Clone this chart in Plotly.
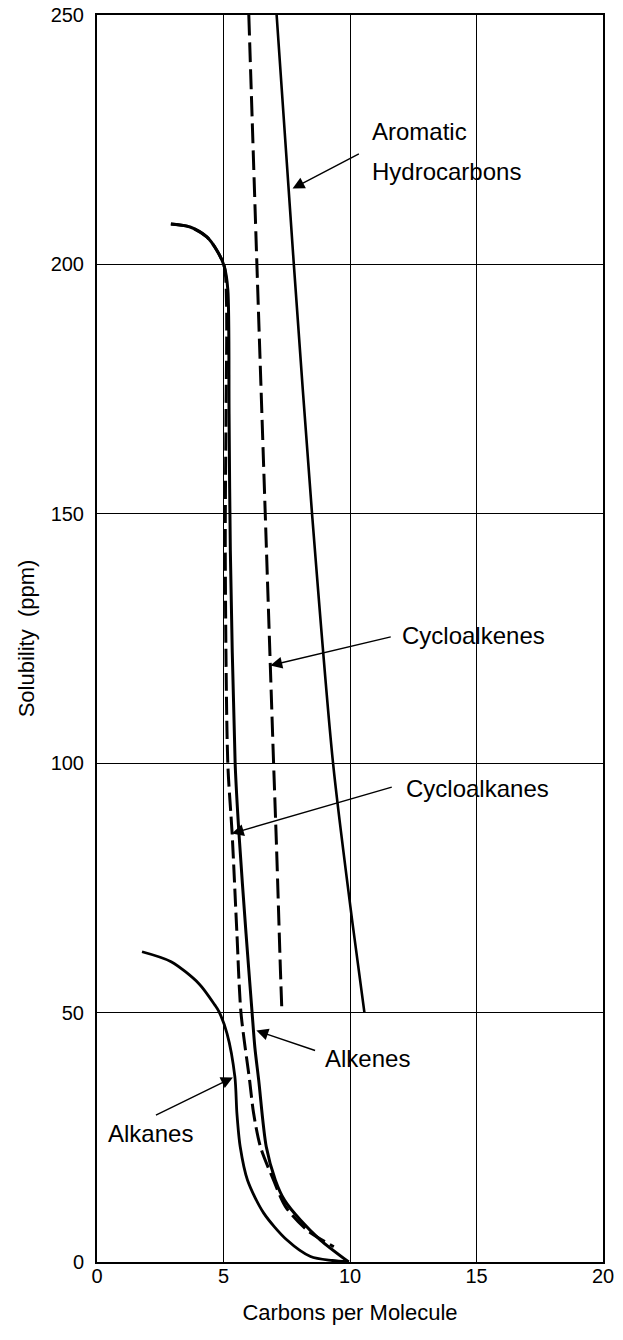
import plotly.graph_objects as go

# ---- data ----
aromatic_x = [7.10, 7.78, 8.50, 9.33, 10.10, 10.57]
aromatic_y = [250, 200, 150, 100, 67.9, 50]

cycloalkenes_x = [6.00, 6.32, 6.65, 6.85, 6.98, 7.10, 7.25, 7.31]
cycloalkenes_y = [250, 200, 150, 119.6, 100, 82.6, 58.5, 50]

cycloalkanes_x = [2.92, 3.68, 4.34, 4.74, 5.03, 5.12, 5.10, 5.07, 5.17, 5.34, 5.53, 5.69,
                  6.03, 6.19, 6.46, 6.98, 7.45, 8.30, 9.36]
cycloalkanes_y = [208.1, 207.5, 205.5, 202.8, 199.6, 192, 170, 142.7, 100, 86, 65.9, 50,
                  36.5, 29.8, 23.1, 16.4, 11.1, 6.4, 3.07]

alkenes_x = [2.92, 3.68, 4.34, 4.74, 5.03, 5.17, 5.22, 5.27, 5.46, 5.61, 5.89, 6.13,
             6.24, 6.39, 6.69, 7.05, 7.41, 8.04, 8.83, 9.95]
alkenes_y = [208.1, 207.5, 205.5, 202.8, 199.6, 195, 170, 142.7, 100, 86, 65.9, 50,
             43, 36.5, 23.1, 16.4, 12.4, 8.4, 4.4, 0]

alkanes_x = [1.78, 2.93, 4.03, 4.66, 4.82, 5.14, 5.45, 5.53, 5.66, 5.95, 6.59, 7.51, 8.44, 9.30, 9.95]
alkanes_y = [62.2, 60.2, 55.8, 51.5, 50.2, 45.8, 37.1, 29.8, 23.1, 16.4, 9.8, 4.4, 1.1, 0.3, 0]

x_ticks = [0, 5, 10, 15, 20]
y_ticks = [0, 50, 100, 150, 200, 250]

# labels: (text, x, y, anchor) and arrows: (tip_x, tip_y, tail_x, tail_y)
labels = [
    ("Aromatic", 10.78, 226.6, "left"),
    ("Hydrocarbons", 10.80, 218.7, "left"),
    ("Cycloalkenes", 11.99, 125.6, "left"),
    ("Cycloalkanes", 12.14, 95.0, "left"),
    ("Alkenes", 8.95, 40.7, "left"),
    ("Alkanes", 2.11, 25.8, "center"),
]
arrows = [
    (7.73, 215.2, 10.41, 222.3),
    (6.85, 119.6, 11.67, 125.4),
    (5.33, 85.9, 11.71, 95.3),
    (6.30, 46.4, 8.68, 42.3),
    (5.37, 37.0, 2.27, 29.3),
]

FONT = "Liberation Sans, Arial, sans-serif"

fig = go.Figure()

def add_line(x, y, dash, width):
    fig.add_trace(go.Scatter(
        x=x, y=y, mode="lines",
        line=dict(color="black", width=width, dash=dash, shape="spline", smoothing=0.8),
        showlegend=False, hoverinfo="skip"))

add_line(aromatic_x, aromatic_y, "solid", 2.6)
add_line(cycloalkenes_x, cycloalkenes_y, "20px,7px", 3)
add_line(alkenes_x, alkenes_y, "solid", 3)
add_line(cycloalkanes_x, cycloalkanes_y, "18px,6px", 3)
add_line(alkanes_x, alkanes_y, "solid", 2.8)

annotations = []
for text, x, y, anchor in labels:
    annotations.append(dict(
        x=x, y=y, xref="x", yref="y", text=text, showarrow=False,
        xanchor=anchor, yanchor="middle",
        font=dict(family=FONT, size=24, color="black")))
for tx, ty, sx, sy in arrows:
    annotations.append(dict(
        x=tx, y=ty, ax=sx, ay=sy, xref="x", yref="y", axref="x", ayref="y",
        text="", showarrow=True, arrowhead=2, arrowsize=1.7, arrowwidth=1.4,
        arrowcolor="black", standoff=0, startstandoff=0))

fig.update_layout(
    width=623, height=1340,
    margin=dict(l=97, r=20, t=15, b=78, autoexpand=False),
    paper_bgcolor="white", plot_bgcolor="white",
    font=dict(family=FONT, color="black"),
    annotations=annotations,
)

fig.update_xaxes(
    range=[0, 20], tickvals=x_ticks, ticktext=[str(v) for v in x_ticks],
    showgrid=True, gridcolor="black", gridwidth=1,
    showline=True, linecolor="black", linewidth=2, mirror=True,
    zeroline=False, ticks="", ticklabelstandoff=-5,
    tickfont=dict(family=FONT, size=20, color="black"),
    title=dict(text="Carbons per Molecule", font=dict(family=FONT, size=22, color="black"),
               standoff=19),
    fixedrange=True,
)
fig.update_yaxes(
    range=[0, 250], tickvals=y_ticks, ticktext=[str(v) for v in y_ticks],
    showgrid=True, gridcolor="black", gridwidth=1,
    showline=True, linecolor="black", linewidth=2, mirror=True,
    zeroline=False, ticks="", ticklabelstandoff=7,
    tickfont=dict(family=FONT, size=20, color="black"),
    title=dict(text="Solubility  (ppm)", font=dict(family=FONT, size=22, color="black"),
               standoff=10),
    fixedrange=True,
)

fig.write_html(
    "out.html",
    config={"displayModeBar": False, "staticPlot": True},
    post_script=(
        "document.body.style.margin='0';"
        "document.body.style.overflow='hidden';"
        "document.documentElement.style.overflow='hidden';"
    ),
)
